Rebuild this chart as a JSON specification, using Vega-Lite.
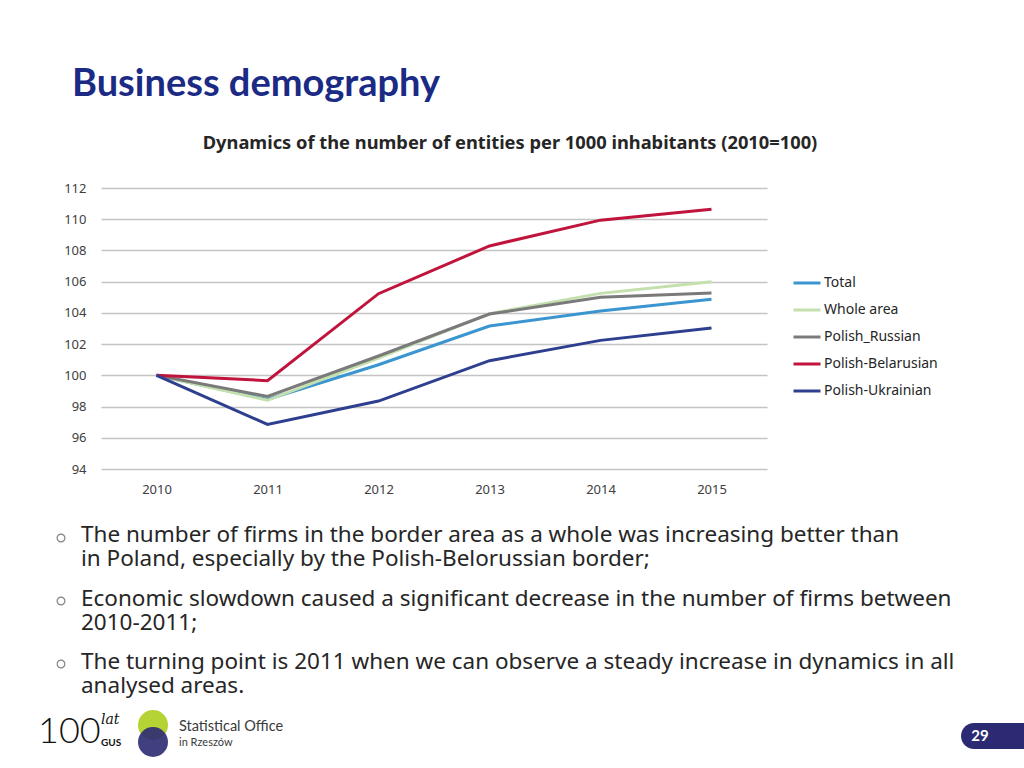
{
  "$schema": "https://vega.github.io/schema/vega-lite/v6.json",
  "background": "white",
  "padding": {"left": 38, "top": 65, "right": 0, "bottom": 0},
  "config": {"view": {"stroke": null}, "font": "Noto Sans"},
  "title": {"text": "Business demography", "anchor": "start", "font": "Lato", "fontSize": 38, "fontWeight": "bold", "color": "#1b2a84", "offset": 30, "dx": -29, "frame": "group"},
  "spacing": 26,
  "resolve": {"scale": {"x": "independent", "y": "independent", "color": "independent"}},
  "vconcat": [
    {
      "width": 666,
      "height": 281,
      "title": {"text": "Dynamics of the number of entities per 1000 inhabitants (2010=100)", "font": "Noto Sans", "fontSize": 18.3, "fontWeight": "bold", "color": "#262626", "anchor": "middle", "dx": 76, "offset": 29},
      "data": {"values": [
        {"year": "2010", "series": "Total", "value": 100},
        {"year": "2011", "series": "Total", "value": 98.46},
        {"year": "2012", "series": "Total", "value": 100.68},
        {"year": "2013", "series": "Total", "value": 103.16},
        {"year": "2014", "series": "Total", "value": 104.12},
        {"year": "2015", "series": "Total", "value": 104.87},
        {"year": "2010", "series": "Whole area", "value": 100},
        {"year": "2011", "series": "Whole area", "value": 98.40},
        {"year": "2012", "series": "Whole area", "value": 101.1},
        {"year": "2013", "series": "Whole area", "value": 103.95},
        {"year": "2014", "series": "Whole area", "value": 105.25},
        {"year": "2015", "series": "Whole area", "value": 106.0},
        {"year": "2010", "series": "Polish_Russian", "value": 100},
        {"year": "2011", "series": "Polish_Russian", "value": 98.65},
        {"year": "2012", "series": "Polish_Russian", "value": 101.24},
        {"year": "2013", "series": "Polish_Russian", "value": 103.93},
        {"year": "2014", "series": "Polish_Russian", "value": 105.0},
        {"year": "2015", "series": "Polish_Russian", "value": 105.28},
        {"year": "2010", "series": "Polish-Belarusian", "value": 100},
        {"year": "2011", "series": "Polish-Belarusian", "value": 99.66},
        {"year": "2012", "series": "Polish-Belarusian", "value": 105.23},
        {"year": "2013", "series": "Polish-Belarusian", "value": 108.29},
        {"year": "2014", "series": "Polish-Belarusian", "value": 109.94},
        {"year": "2015", "series": "Polish-Belarusian", "value": 110.64},
        {"year": "2010", "series": "Polish-Ukrainian", "value": 100},
        {"year": "2011", "series": "Polish-Ukrainian", "value": 96.86},
        {"year": "2012", "series": "Polish-Ukrainian", "value": 98.35},
        {"year": "2013", "series": "Polish-Ukrainian", "value": 100.94},
        {"year": "2014", "series": "Polish-Ukrainian", "value": 102.24},
        {"year": "2015", "series": "Polish-Ukrainian", "value": 103.03}
      ]},
      "mark": {"type": "line", "strokeWidth": 3},
      "encoding": {
        "x": {"field": "year", "type": "ordinal", "scale": {"type": "point", "padding": 0.5},
          "axis": {"title": null, "labelAngle": 0, "ticks": false, "domain": false, "grid": false, "labelPadding": 14, "labelFontSize": 13, "labelColor": "#404040"}},
        "y": {"field": "value", "type": "quantitative", "scale": {"domain": [94, 112], "nice": false, "zero": false},
          "axis": {"title": null, "values": [94, 96, 98, 100, 102, 104, 106, 108, 110, 112], "ticks": false, "domain": false, "labelPadding": 15, "labelFontSize": 13, "labelColor": "#404040", "gridColor": "#c4c4c4", "gridWidth": 1.3}},
        "color": {"field": "series", "type": "nominal",
          "scale": {"domain": ["Total", "Whole area", "Polish_Russian", "Polish-Belarusian", "Polish-Ukrainian"], "range": ["#3a95d0", "#c3e0ad", "#7a7a7a", "#c0143c", "#2e3f8f"]},
          "legend": {"title": null, "orient": "none", "legendX": 691, "legendY": 80, "symbolType": "stroke", "symbolSize": 729, "symbolStrokeWidth": 3, "labelFontSize": 14, "labelColor": "#262626", "labelOffset": 2, "rowPadding": 5, "padding": 0}}
      }
    },
    {
      "width": 860,
      "height": 248,
      "encoding": {
        "x": {"field": "x", "type": "quantitative", "scale": {"domain": [0, 860], "nice": false, "zero": false}, "axis": null},
        "y": {"field": "y", "type": "quantitative", "scale": {"domain": [0, 248], "nice": false, "zero": false, "reverse": true}, "axis": null}
      },
      "layer": [
        {
          "data": {"values": [
            {"x": -20, "y": 13, "t": ["The number of firms in the border area as a whole was increasing better than", "in Poland, especially by the Polish-Belorussian border;"]},
            {"x": -20, "y": 77, "t": ["Economic slowdown caused a significant decrease in the number of firms between", "2010-2011;"]},
            {"x": -20, "y": 140, "t": ["The turning point is 2011 when we can observe a steady increase in dynamics in all", "analysed areas."]}
          ]},
          "mark": {"type": "text", "align": "left", "baseline": "middle", "fontSize": 22.5, "lineHeight": 24, "font": "Noto Sans", "color": "#262626"},
          "encoding": {"text": {"field": "t"}}
        },
        {
          "data": {"values": [{"x": -40, "y": 16}, {"x": -40, "y": 79}, {"x": -40, "y": 142}]},
          "mark": {"type": "point", "shape": "circle", "filled": false, "size": 60, "stroke": "#505050", "strokeWidth": 1.2}
        },
        {
          "data": {"values": [{"x": 52, "y": 203}]},
          "mark": {"type": "circle", "size": 900, "color": "#b5d334", "opacity": 1}
        },
        {
          "data": {"values": [{"x": 52, "y": 220}]},
          "mark": {"type": "circle", "size": 900, "color": "#2b2a72", "opacity": 0.9}
        },
        {
          "data": {"values": [{"x": -63, "y": 210, "t": "100"}]},
          "mark": {"type": "text", "align": "left", "baseline": "middle", "fontSize": 36, "font": "Lato", "fontWeight": 300, "color": "#111111"},
          "encoding": {"text": {"field": "t"}}
        },
        {
          "data": {"values": [{"x": 0, "y": 198, "t": "lat"}]},
          "mark": {"type": "text", "align": "left", "baseline": "middle", "fontSize": 14, "font": "DejaVu Serif", "fontStyle": "italic", "color": "#111111"},
          "encoding": {"text": {"field": "t"}}
        },
        {
          "data": {"values": [{"x": 0, "y": 221, "t": "GUS"}]},
          "mark": {"type": "text", "align": "left", "baseline": "middle", "fontSize": 10, "font": "Lato", "fontWeight": "bold", "color": "#111111"},
          "encoding": {"text": {"field": "t"}}
        },
        {
          "data": {"values": [{"x": 78, "y": 205, "t": "Statistical Office"}]},
          "mark": {"type": "text", "align": "left", "baseline": "middle", "fontSize": 14.5, "font": "Lato", "color": "#3a3a3a"},
          "encoding": {"text": {"field": "t"}}
        },
        {
          "data": {"values": [{"x": 78, "y": 221, "t": "in Rzeszów"}]},
          "mark": {"type": "text", "align": "left", "baseline": "middle", "fontSize": 11, "font": "Lato", "color": "#3a3a3a"},
          "encoding": {"text": {"field": "t"}}
        },
        {
          "data": {"values": [{"x": 860, "x2": 924, "y": 201, "y2": 227}]},
          "mark": {"type": "rect", "color": "#2b2a72", "cornerRadiusTopLeft": 13, "cornerRadiusBottomLeft": 13},
          "encoding": {"x2": {"field": "x2"}, "y2": {"field": "y2"}}
        },
        {
          "data": {"values": [{"x": 879, "y": 214, "t": "29"}]},
          "mark": {"type": "text", "align": "center", "baseline": "middle", "fontSize": 15, "font": "Lato", "fontWeight": "bold", "color": "white"},
          "encoding": {"text": {"field": "t"}}
        }
      ]
    }
  ]
}
